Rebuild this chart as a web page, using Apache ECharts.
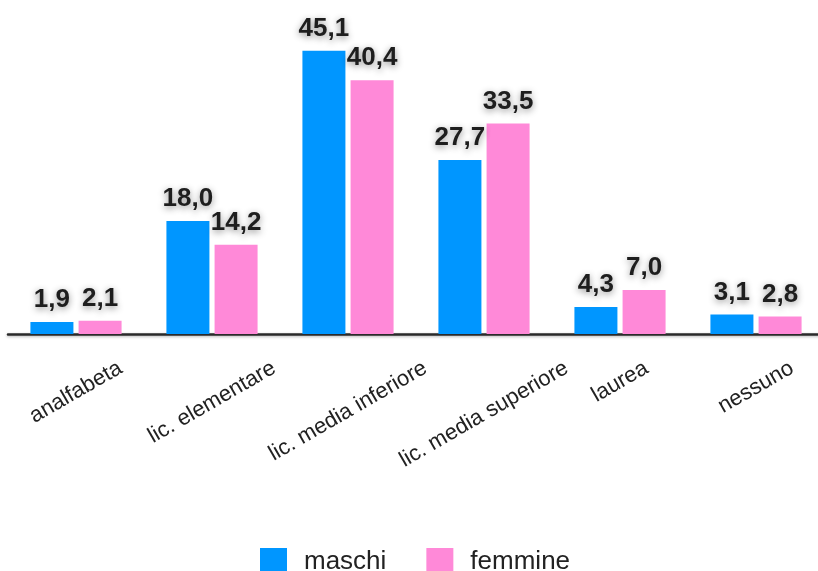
<!DOCTYPE html>
<html><head><meta charset="utf-8">
<script src="https://cdn.jsdelivr.net/npm/echarts@6/dist/echarts.min.js"></script>
<style>html,body{margin:0;padding:0;background:#fff}#c{width:818px;height:571px}</style>
</head><body><div id="c"></div>
<script>
const categories = ['analfabeta','lic. elementare','lic. media inferiore','lic. media superiore','laurea','nessuno'];
const maschi = [1.9, 18.0, 45.1, 27.7, 4.3, 3.1];
const femmine = [2.1, 14.2, 40.4, 33.5, 7.0, 2.8];
const seriesNames = ['maschi','femmine'];

const AX_FONT = 'Liberation Sans';
const AX_FS = 22;
const ROT = 30;
const TOP_GAP = 23;          // gap between axis line and top of rotated label boxes
const th = ROT * Math.PI / 180;
const ctx = document.createElement('canvas').getContext('2d');
ctx.font = AX_FS + 'px "' + AX_FONT + '"';

const chart = echarts.init(document.getElementById('c'));
const label = {
  show: true, position: 'top', distance: 9,
  formatter: p => p.value.toFixed(1).replace('.', ','),
  fontFamily: 'Liberation Sans', fontWeight: 'bold', fontSize: 26, color: '#1e1e1e',
  textShadowColor: 'rgba(0,0,0,0.45)', textShadowBlur: 7, textShadowOffsetY: 2
};
chart.setOption({
  animation: false,
  grid: { left: 8, top: 20, right: -6, height: 314, containLabel: false, outerBoundsMode: 'none' },
  xAxis: {
    type: 'category', data: categories,
    axisLine: { lineStyle: { color: '#2a2a2a', width: 2.5, shadowColor: 'rgba(0,0,0,0.3)', shadowBlur: 3, shadowOffsetY: 1 } },
    axisTick: { show: false },
    axisLabel: { show: false }
  },
  yAxis: { type: 'value', min: 0, max: 50, show: false, splitLine: { show: false } },
  legend: {
    left: 260, top: 548, padding: 0, itemWidth: 27, itemHeight: 27, itemGap: 40,
    icon: 'rect',
    textStyle: { fontFamily: 'Liberation Sans', fontSize: 26, color: '#222', padding: [0, 0, 0, 12] },
    data: seriesNames
  },
  series: [
    { name: seriesNames[0], type: 'bar', data: maschi, barWidth: 43, barGap: '12%', itemStyle: { color: '#0096FF' }, label },
    { name: seriesNames[1], type: 'bar', data: femmine, barWidth: 43, barGap: '12%', itemStyle: { color: '#FF89D8' }, label },
    {
      name: 'categoryLabels', type: 'custom', clip: false, silent: true,
      data: categories.map((c, i) => [i, 0]),
      renderItem: function (params, api) {
        const i = params.dataIndex;
        const name = categories[i];
        const p = api.coord([api.value(0), 0]);
        const w = ctx.measureText(name).width;
        const h = AX_FS;
        const half = (w * Math.sin(th) + h * Math.cos(th)) / 2;
        return {
          type: 'text', x: p[0], y: p[1] + TOP_GAP + half, rotation: th,
          style: { text: name, x: 0, y: 0, align: 'center', verticalAlign: 'middle',
            fontFamily: AX_FONT, fontSize: AX_FS, fill: '#222' }
        };
      }
    }
  ]
});
</script></body></html>
